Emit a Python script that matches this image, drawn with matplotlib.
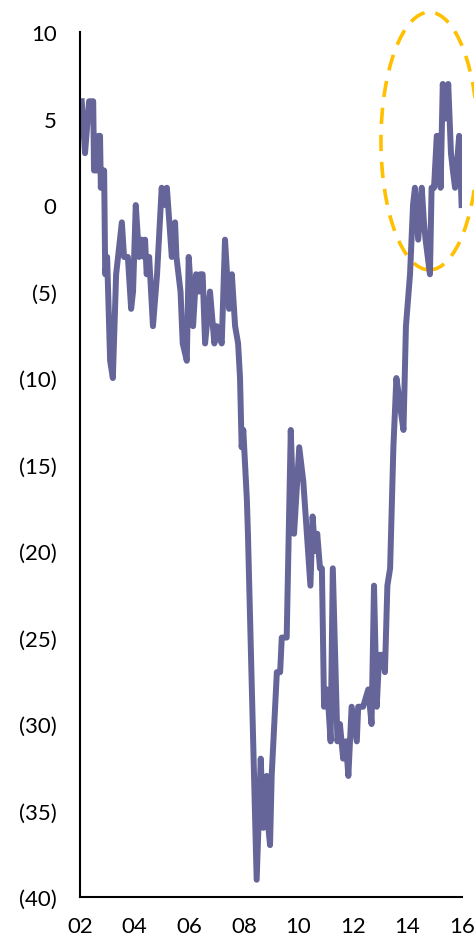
import matplotlib
matplotlib.use("Agg")
import matplotlib.pyplot as plt
from matplotlib.patches import Ellipse
from matplotlib.ticker import FuncFormatter

# spread series, dates as decimal years
dates = [
    2002.06, 2002.18, 2002.33, 2002.48, 2002.51, 2002.61, 2002.67, 2002.73, 2002.76, 2002.79,
    2002.88, 2002.92, 2002.99, 2003.10, 2003.20, 2003.32, 2003.53, 2003.61, 2003.75, 2003.87,
    2003.94, 2004.04, 2004.16, 2004.26, 2004.34, 2004.38, 2004.44, 2004.53, 2004.67, 2004.82,
    2004.99, 2005.06, 2005.18, 2005.36, 2005.48, 2005.53, 2005.68, 2005.76, 2005.91, 2005.98,
    2006.14, 2006.25, 2006.36, 2006.40, 2006.49, 2006.58, 2006.76, 2006.92, 2007.01, 2007.19,
    2007.31, 2007.46, 2007.56, 2007.68, 2007.79, 2007.86, 2007.92, 2007.98, 2008.11, 2008.15,
    2008.47, 2008.62, 2008.71, 2008.84, 2008.90, 2008.96, 2009.02, 2009.21, 2009.33, 2009.39,
    2009.57, 2009.72, 2009.84, 2010.03, 2010.18, 2010.44, 2010.52, 2010.61, 2010.69, 2010.79,
    2010.86, 2010.94, 2011.04, 2011.10, 2011.18, 2011.26, 2011.43, 2011.52, 2011.64, 2011.74,
    2011.83, 2011.95, 2012.14, 2012.19, 2012.37, 2012.56, 2012.68, 2012.77, 2012.87, 2012.96,
    2013.09, 2013.17, 2013.26, 2013.36, 2013.48, 2013.59, 2013.68, 2013.76, 2013.85, 2013.94,
    2014.09, 2014.20, 2014.27, 2014.39, 2014.52, 2014.60, 2014.66, 2014.82, 2014.88, 2014.97,
    2015.07, 2015.15, 2015.21, 2015.29, 2015.39, 2015.49, 2015.59, 2015.66, 2015.74, 2015.89,
    2015.98,
]
values = [
    6, 3, 6, 6, 2, 2, 4, 4, 1, 2,
    2, -4, -3, -9, -10, -4, -1, -3, -3, -6,
    -5, 0, -3, -2, -3, -2, -4, -3, -7, -4,
    1, 0, 1, -3, -1, -3, -5, -8, -9, -3,
    -7, -4, -5, -4, -4, -8, -5, -8, -7, -8,
    -2, -6, -4, -7, -8, -10, -14, -13, -17, -19,
    -39, -32, -36, -33, -36, -37, -33, -27, -27, -25,
    -25, -13, -19, -14, -16, -22, -18, -20, -19, -21,
    -21, -29, -28, -29, -31, -21, -31, -30, -32, -31,
    -33, -29, -31, -29, -29, -28, -30, -22, -29, -26,
    -26, -27, -22, -21, -14, -10, -11, -12, -13, -7,
    -4, 0, 1, -2, 1, -1, -2, -4, 1, 1,
    4, 4, 1, 7, 5, 7, 3, 2, 1, 4,
    0,
]

y_ticks = list(range(-40, 11, 5))
x_ticks = list(range(2002, 2017, 2))
x_labels = [f"{y % 100:02d}" for y in x_ticks]


def paren_fmt(v, pos):
    v = int(round(v))
    return f"({abs(v)})" if v < 0 else f"{v}"


fig = plt.figure(figsize=(4.74, 9.45), dpi=100)
ax = fig.add_axes([0.169, 0.0497, 0.806, 0.9153])

ax.plot(dates, values, color="#65659a", linewidth=4.3, solid_joinstyle="round")

# highlight the recent rebound
ax.add_patch(Ellipse((2014.8, 3.7), 3.55, 14.9, fill=False, edgecolor="#ffc000",
                     linewidth=2.6, linestyle=(0, (4.5, 3)), clip_on=False))

ax.set_xlim(2002, 2016)
ax.set_ylim(-40, 10)
ax.set_yticks(y_ticks)
ax.yaxis.set_major_formatter(FuncFormatter(paren_fmt))
ax.set_xticks(x_ticks)
ax.set_xticklabels(x_labels)

for side in ("top", "right"):
    ax.spines[side].set_visible(False)
for side in ("left", "bottom"):
    ax.spines[side].set_linewidth(1.5)
    ax.spines[side].set_color("black")

ax.tick_params(axis="both", length=0, labelsize=16)
ax.tick_params(axis="y", pad=17)
ax.tick_params(axis="x", pad=14)
for lbl in ax.get_xticklabels() + ax.get_yticklabels():
    lbl.set_fontfamily("Lato")

fig.savefig("out.png", dpi=100)
